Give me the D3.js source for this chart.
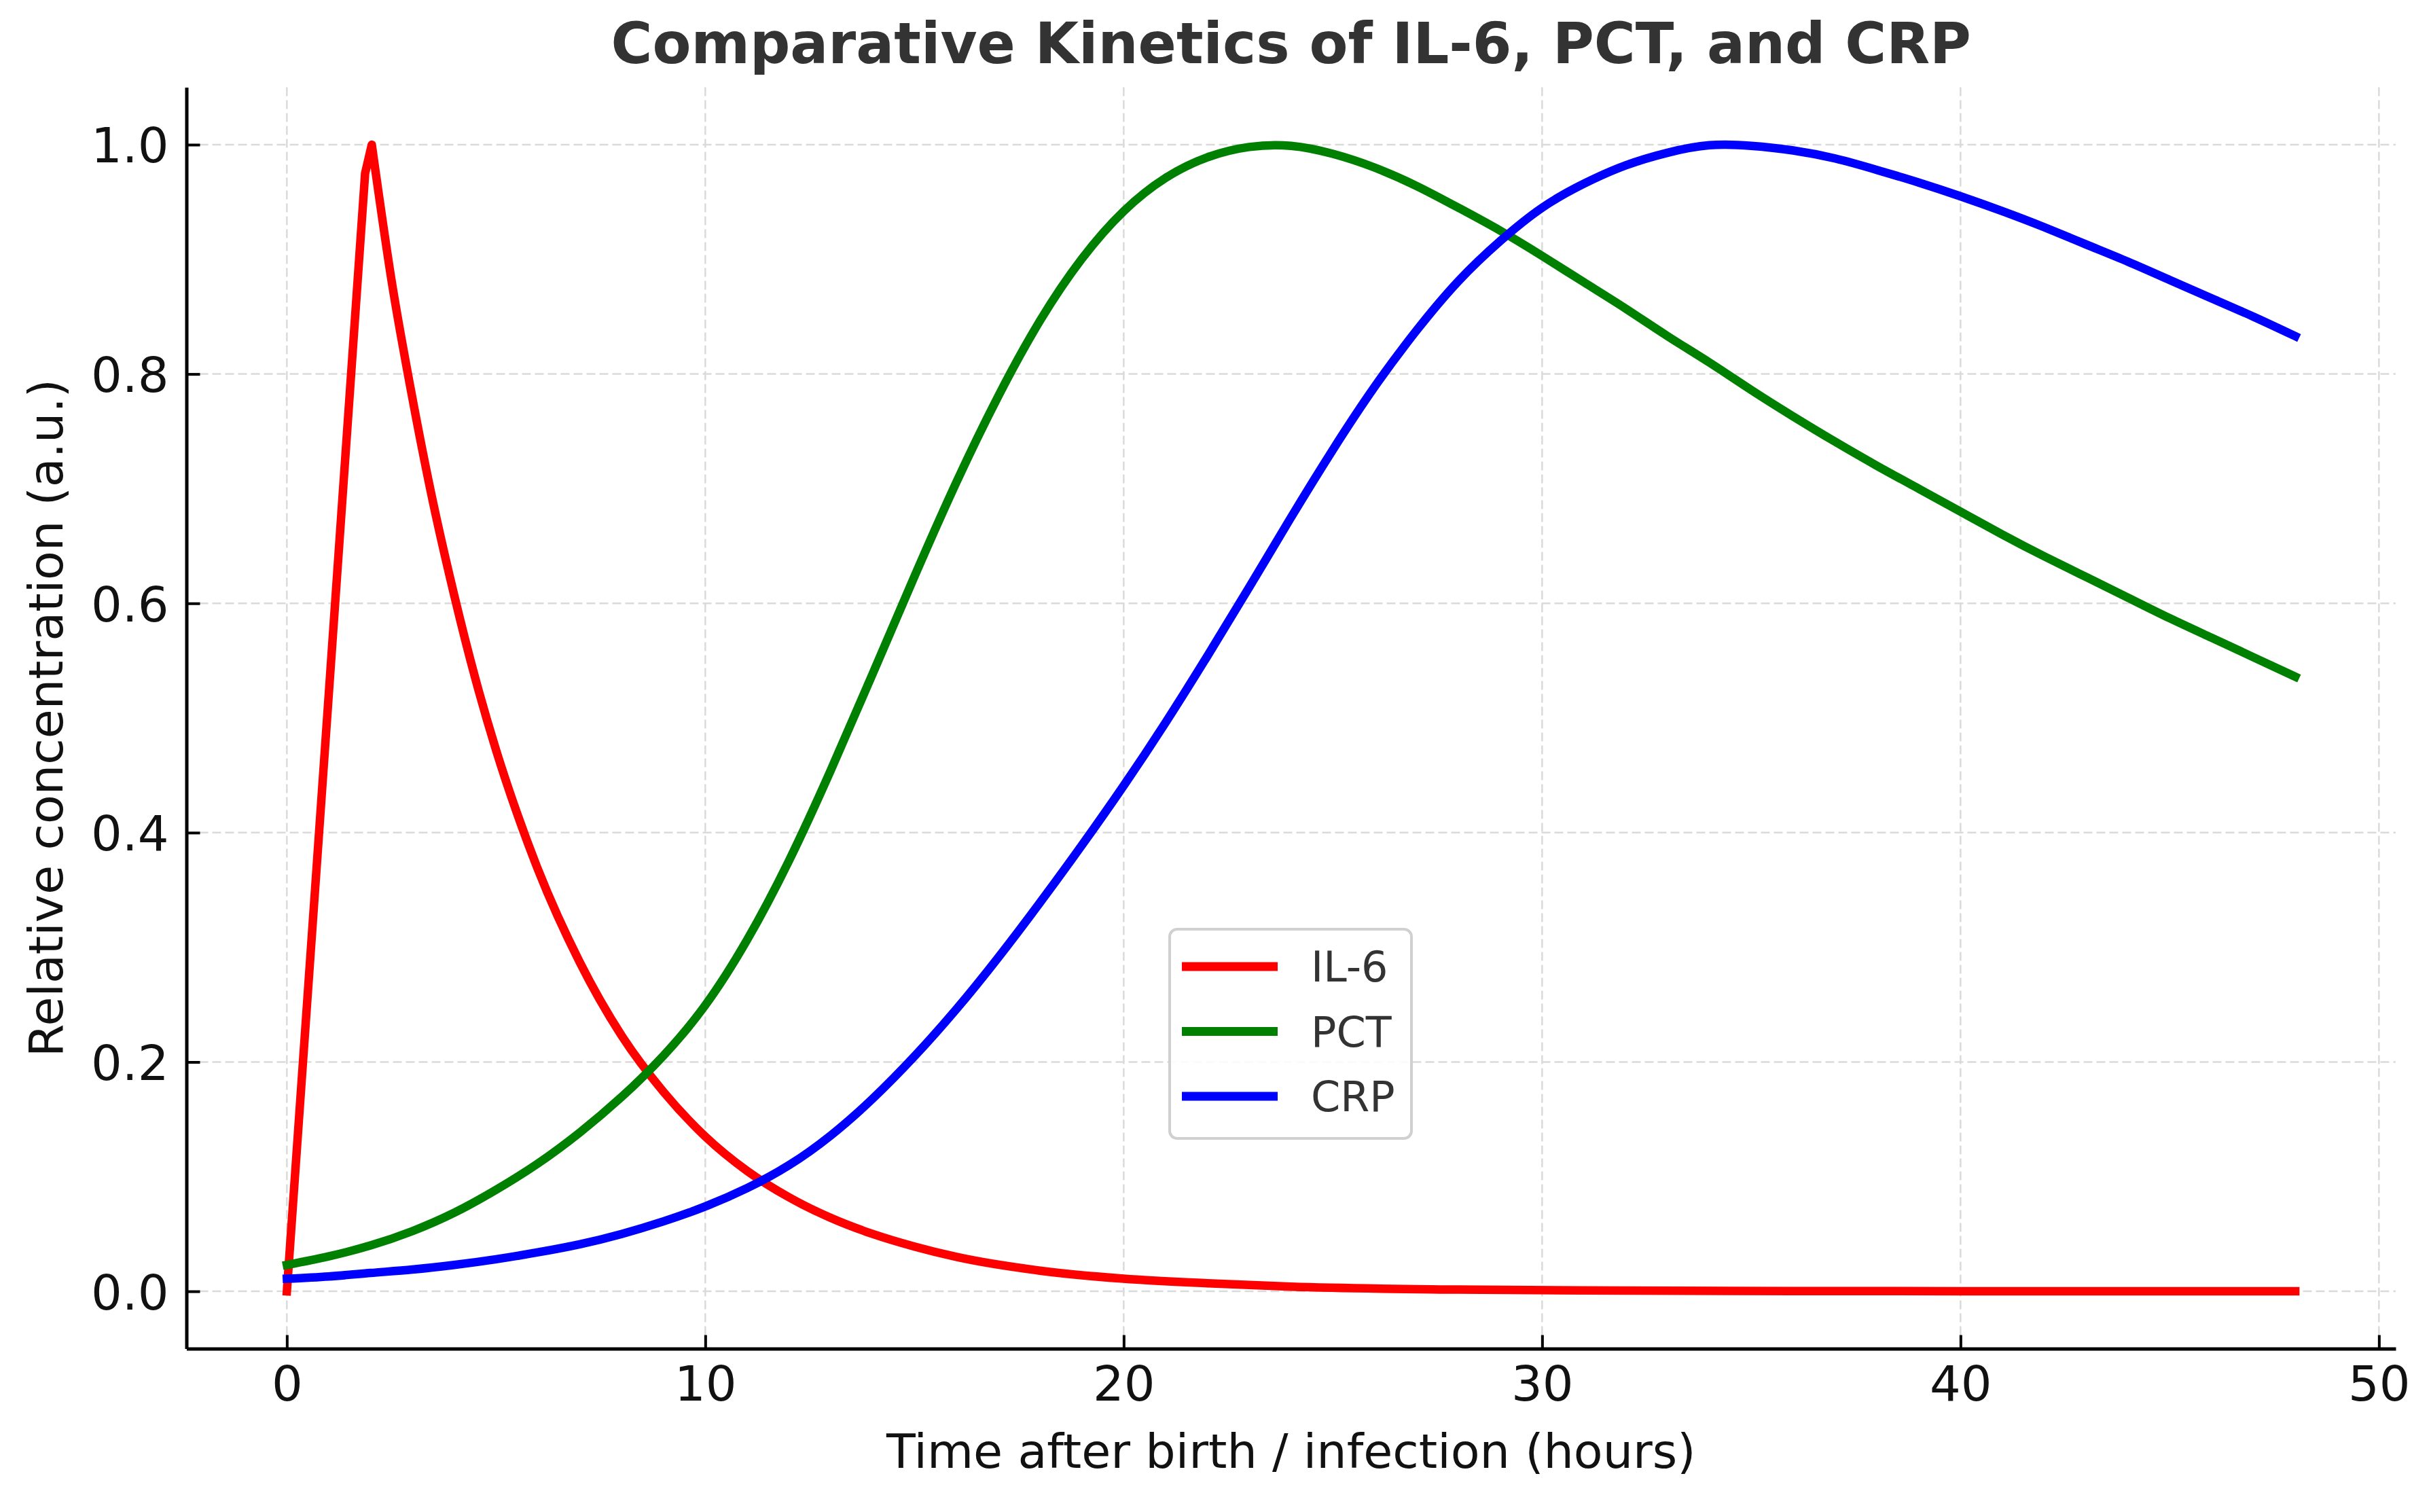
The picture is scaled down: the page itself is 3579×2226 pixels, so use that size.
<!DOCTYPE html>
<html>
<head>
<meta charset="utf-8">
<script src="https://cdn.jsdelivr.net/npm/d3@7"></script>
<style>
  html, body { margin: 0; padding: 0; background: #ffffff; }
  svg { display: block; }
</style>
</head>
<body>
<svg id="chart" width="3579" height="2226"></svg>
<script>
// ---------------- data ----------------
const seriesNames = ["IL-6", "PCT", "CRP"];
const seriesColors = ["#ff0000", "#008000", "#0000ff"];

// IL-6: near-linear rise to a sharp peak at ~2 h, then a smooth decay
const il6RiseHours = [0, 1, 1.87, 2.03];
const il6RiseValues = [0, 0.52, 0.975, 1.0];
const il6DecayHours = [2.03, 2.5, 3, 3.5, 4, 4.5, 5, 5.5, 6, 7, 8, 9, 10, 11, 12, 13, 14, 15, 16, 18, 20, 22, 24, 28, 32, 36, 40, 44, 48];
const il6DecayValues = [1.0, 0.882, 0.779, 0.687, 0.607, 0.535, 0.472, 0.417, 0.368, 0.287, 0.223, 0.174, 0.135,
                        0.105, 0.082, 0.064, 0.050, 0.039, 0.030, 0.018, 0.011, 0.007, 0.004, 0.0015, 0.0006, 0.0002, 0.0001, 0, 0];

const pctHours = d3.range(0, 49);
const pctValues = [0.023, 0.0305, 0.040, 0.0525, 0.0685, 0.0885, 0.1115, 0.1385, 0.1695, 0.2055,
                   0.2495, 0.3065, 0.3755, 0.4545, 0.5385, 0.6235, 0.7055, 0.7805, 0.8465, 0.9005,
                   0.942, 0.971, 0.989, 0.998, 0.999, 0.992, 0.980, 0.964, 0.945, 0.925,
                   0.903, 0.880, 0.857, 0.833, 0.810, 0.786, 0.763, 0.741, 0.720, 0.700,
                   0.680, 0.660, 0.641, 0.623, 0.605, 0.587, 0.570, 0.553, 0.536];

const crpHours = d3.range(0, 49);
const crpValues = [0.011, 0.013, 0.016, 0.019, 0.023, 0.028, 0.034, 0.041, 0.050, 0.061,
                   0.074, 0.090, 0.110, 0.136, 0.168, 0.205, 0.246, 0.291, 0.339, 0.389,
                   0.441, 0.496, 0.554, 0.614, 0.675, 0.734, 0.789, 0.838, 0.881, 0.916,
                   0.945, 0.966, 0.982, 0.993, 0.9995, 0.999, 0.995, 0.988, 0.978, 0.967,
                   0.955, 0.942, 0.928, 0.913, 0.898, 0.882, 0.866, 0.850, 0.833];

const xTicks = [0, 10, 20, 30, 40, 50];
const yTicks = [0.0, 0.2, 0.4, 0.6, 0.8, 1.0];

const titleText = "Comparative Kinetics of IL-6, PCT, and CRP";
const xLabelText = "Time after birth / infection (hours)";
const yLabelText = "Relative concentration (a.u.)";

// ---------------- layout ----------------
const FONT = "'DejaVu Sans', 'Liberation Sans', sans-serif";
const plot = { left: 274.5, right: 3527, top: 128.6, bottom: 1985.5 };

const x = d3.scaleLinear().domain([-2.4, 50.4]).range([plot.left, plot.right]);
const y = d3.scaleLinear().domain([-0.05, 1.05]).range([plot.bottom, plot.top]);

const svg = d3.select("#chart");
svg.append("rect").attr("width", 3579).attr("height", 2226).attr("fill", "#ffffff");

// grid
const grid = svg.append("g").attr("class", "grid");
grid.selectAll("line.vx").data(xTicks).join("line")
  .attr("x1", d => x(d)).attr("x2", d => x(d))
  .attr("y1", plot.top).attr("y2", plot.bottom)
  .attr("stroke", "#dadada").attr("stroke-width", 2.5).attr("stroke-dasharray", "13,6");
grid.selectAll("line.hy").data(yTicks).join("line")
  .attr("x1", plot.left).attr("x2", plot.right)
  .attr("y1", d => y(d)).attr("y2", d => y(d))
  .attr("stroke", "#dadada").attr("stroke-width", 2.5).attr("stroke-dasharray", "13,6");

// series
const zip = (ts, vs) => ts.map((t, i) => [t, vs[i]]);
const il6Rise = zip(il6RiseHours, il6RiseValues);
const il6Decay = zip(il6DecayHours, il6DecayValues);
const pct = zip(pctHours, pctValues);
const crp = zip(crpHours, crpValues);

const lineLinear = d3.line().x(d => x(d[0])).y(d => y(d[1])).curve(d3.curveLinear);
const lineMono = d3.line().x(d => x(d[0])).y(d => y(d[1])).curve(d3.curveMonotoneX);
const lineNatural = d3.line().x(d => x(d[0])).y(d => y(d[1])).curve(d3.curveNatural);

// IL-6: straight rise joined to a smooth decay in one continuous path
const il6Path = lineLinear(il6Rise) + lineMono(il6Decay).replace(/^M/, "L");

const paths = [il6Path, lineNatural(pct), lineNatural(crp)];
const lines = svg.append("g").attr("class", "series");
paths.forEach((d, i) => {
  lines.append("path")
    .attr("d", d)
    .attr("fill", "none")
    .attr("stroke", seriesColors[i])
    .attr("stroke-width", 12.5)
    .attr("stroke-linejoin", "round")
    .attr("stroke-linecap", "square");
});

// axes
const xAxis = d3.axisBottom(x).tickValues(xTicks).tickFormat(d3.format("d"))
  .tickSizeInner(-20).tickSizeOuter(0).tickPadding(25);
const yAxis = d3.axisLeft(y).tickValues(yTicks).tickFormat(d3.format(".1f"))
  .tickSizeInner(-20).tickSizeOuter(0).tickPadding(26);

const gx = svg.append("g").attr("transform", `translate(0,${plot.bottom})`).call(xAxis);
const gy = svg.append("g").attr("transform", `translate(${plot.left},0)`).call(yAxis);

[gx, gy].forEach(g => {
  g.select(".domain").attr("stroke", "#000").attr("stroke-width", 5);
  g.selectAll(".tick line").attr("stroke", "#000").attr("stroke-width", 4);
  g.selectAll(".tick text")
    .attr("font-family", FONT).attr("font-size", 72).attr("fill", "#111");
});
gy.selectAll(".tick text").attr("dy", "0.36em");

// title & labels
svg.append("text")
  .attr("x", (plot.left + plot.right) / 2).attr("y", 93)
  .attr("text-anchor", "middle")
  .attr("font-family", FONT).attr("font-weight", "bold").attr("font-size", 83)
  .attr("fill", "#333333")
  .text(titleText);

svg.append("text")
  .attr("x", (plot.left + plot.right) / 2).attr("y", 2161)
  .attr("text-anchor", "middle")
  .attr("font-family", FONT).attr("font-size", 70).attr("fill", "#111")
  .text(xLabelText);

svg.append("text")
  .attr("transform", `translate(92,${(plot.top + plot.bottom) / 2}) rotate(-90)`)
  .attr("text-anchor", "middle")
  .attr("font-family", FONT).attr("font-size", 70).attr("fill", "#111")
  .text(yLabelText);

// legend
const legend = svg.append("g").attr("class", "legend");
legend.append("rect")
  .attr("x", 1722).attr("y", 1368).attr("width", 356).attr("height", 308)
  .attr("rx", 11).attr("ry", 11)
  .attr("fill", "#ffffff").attr("fill-opacity", 0.85)
  .attr("stroke", "#d0d0d0").attr("stroke-width", 4);

const legendRowY = d3.scaleLinear().domain([0, 2]).range([1423, 1614]);
seriesNames.forEach((name, i) => {
  const yy = legendRowY(i);
  legend.append("line")
    .attr("x1", 1740).attr("x2", 1881).attr("y1", yy).attr("y2", yy)
    .attr("stroke", seriesColors[i]).attr("stroke-width", 13);
  legend.append("text")
    .attr("x", 1930).attr("y", yy).attr("dy", "0.36em")
    .attr("font-family", FONT).attr("font-size", 62).attr("fill", "#333333")
    .text(name);
});
</script>
</body>
</html>
